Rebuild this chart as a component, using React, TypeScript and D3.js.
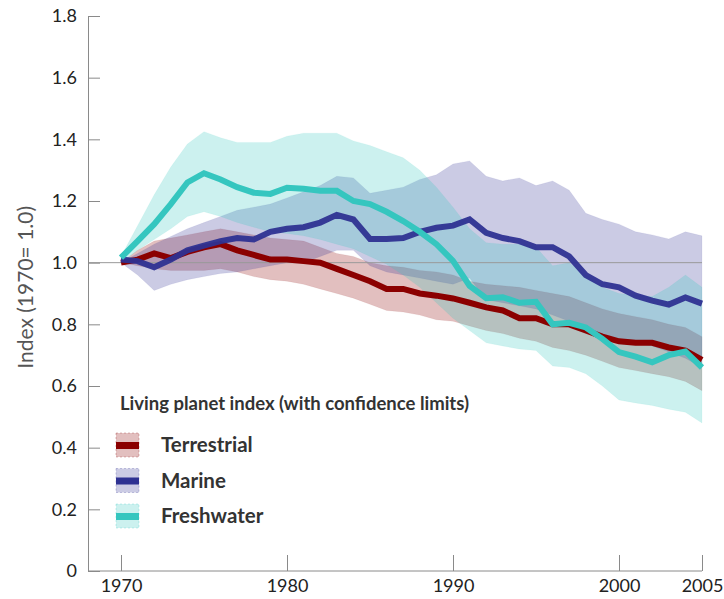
import React, { useRef, useEffect } from 'react'
import * as d3 from 'd3'

// years 1970..2005
const years = [
	1970, 1971, 1972, 1973, 1974, 1975, 1976, 1977, 1978, 1979, 1980, 1981,
	1982, 1983, 1984, 1985, 1986, 1987, 1988, 1989, 1990, 1991, 1992, 1993,
	1994, 1995, 1996, 1997, 1998, 1999, 2000, 2001, 2002, 2003, 2004, 2005,
]

const terrestrial = [
	1.0, 1.01, 1.03, 1.015, 1.035, 1.05, 1.06, 1.04, 1.025, 1.01, 1.01, 1.005,
	1.0, 0.98, 0.96, 0.94, 0.915, 0.915, 0.9, 0.893, 0.884, 0.87, 0.855, 0.845,
	0.82, 0.82, 0.8, 0.8, 0.78, 0.76, 0.745, 0.74, 0.74, 0.725, 0.715, 0.685,
]
const terrestrialHi = [
	1.0, 1.04, 1.07, 1.08, 1.09, 1.1, 1.11, 1.1, 1.09, 1.08, 1.075, 1.07,
	1.05, 1.03, 1.02, 1.0, 0.99, 0.985, 0.975, 0.97, 0.96, 0.94, 0.93, 0.925,
	0.92, 0.91, 0.9, 0.89, 0.87, 0.85, 0.835, 0.825, 0.815, 0.8, 0.79, 0.76,
]
const terrestrialLo = [
	1.0, 0.99, 0.98, 0.975, 0.975, 0.975, 0.98, 0.97, 0.955, 0.945, 0.94, 0.93,
	0.915, 0.9, 0.885, 0.865, 0.845, 0.84, 0.83, 0.815, 0.81, 0.795, 0.78, 0.77,
	0.755, 0.745, 0.725, 0.715, 0.7, 0.68, 0.66, 0.65, 0.64, 0.63, 0.615, 0.585,
]

const marine = [
	1.01, 1.005, 0.985, 1.01, 1.04, 1.055, 1.07, 1.08, 1.075, 1.1, 1.11, 1.115,
	1.13, 1.155, 1.14, 1.077, 1.077, 1.08, 1.1, 1.113, 1.12, 1.14, 1.097, 1.08,
	1.07, 1.05, 1.05, 1.02, 0.96, 0.93, 0.92, 0.893, 0.877, 0.864, 0.887, 0.867,
]
const marineHi = [
	1.0, 1.03, 1.06, 1.085, 1.11, 1.13, 1.15, 1.17, 1.18, 1.19, 1.21, 1.23,
	1.25, 1.28, 1.275, 1.225, 1.235, 1.245, 1.27, 1.285, 1.32, 1.33, 1.28, 1.265,
	1.275, 1.25, 1.265, 1.235, 1.16, 1.14, 1.125, 1.1, 1.09, 1.077, 1.1, 1.087,
]
const marineLo = [
	1.0, 0.96, 0.91, 0.93, 0.945, 0.955, 0.965, 0.97, 0.98, 0.99, 1.0, 1.0,
	1.02, 1.04, 1.04, 0.99, 0.97, 0.96, 0.95, 0.94, 0.93, 0.95, 0.88, 0.87,
	0.86, 0.85, 0.83, 0.81, 0.79, 0.77, 0.75, 0.74, 0.73, 0.71, 0.69, 0.66,
]

const freshwater = [
	1.016, 1.07, 1.125, 1.19, 1.26, 1.29, 1.27, 1.245, 1.227, 1.223, 1.243, 1.24,
	1.233, 1.233, 1.2, 1.19, 1.165, 1.135, 1.1, 1.06, 1.006, 0.925, 0.885, 0.888,
	0.87, 0.873, 0.8, 0.805, 0.79, 0.753, 0.71, 0.695, 0.677, 0.7, 0.712, 0.66,
]
const freshwaterHi = [
	1.02, 1.12, 1.22, 1.31, 1.385, 1.425, 1.405, 1.39, 1.39, 1.39, 1.41, 1.42,
	1.42, 1.42, 1.395, 1.38, 1.36, 1.34, 1.3, 1.245, 1.18, 1.11, 1.065, 1.06,
	1.06, 1.05, 0.99, 1.0, 0.96, 0.92, 0.9, 0.895, 0.89, 0.92, 0.96, 0.92,
]
const freshwaterLo = [
	1.0, 1.04, 1.075, 1.11, 1.15, 1.165, 1.15, 1.13, 1.115, 1.1, 1.095, 1.087,
	1.075, 1.06, 1.045, 1.02, 0.995, 0.96, 0.92, 0.87, 0.82, 0.78, 0.74, 0.73,
	0.72, 0.715, 0.665, 0.66, 0.64, 0.6, 0.555, 0.545, 0.537, 0.525, 0.515, 0.48,
]

const seriesNames = ['Terrestrial', 'Marine', 'Freshwater']
const seriesColors = ['#8b0000', '#2e3192', '#35c6bf']

const yTicks = [0, 0.2, 0.4, 0.6, 0.8, 1.0, 1.2, 1.4, 1.6, 1.8]
const yTickLabels = ['0', '0.2', '0.4', '0.6', '0.8', '1.0', '1.2', '1.4', '1.6', '1.8']
const xTicks = [1970, 1980, 1990, 2000, 2005]

const legendTitle = 'Living planet index (with confidence limits)'
const yTitle = 'Index (1970= 1.0)'

const font = 'Lato, "Open Sans", sans-serif'

function App() {
	const svgRef = useRef<SVGSVGElement>(null)

	useEffect(() => {
		const svg = d3.select(svgRef.current)
		svg.selectAll('*').remove()

		const left = 88
		const x = d3.scaleLinear().domain([1970, 2005]).range([121, 702])
		const y = d3.scaleLinear().domain([0, 1.8]).range([571, 16])

		const series = [
			{ v: terrestrial, hi: terrestrialHi, lo: terrestrialLo },
			{ v: marine, hi: marineHi, lo: marineLo },
			{ v: freshwater, hi: freshwaterHi, lo: freshwaterLo },
		]

		// confidence bands
		series.forEach((s, k) => {
			const area = d3
				.area<number>()
				.x((d, i) => x(years[i]))
				.y0((d, i) => y(s.lo[i]))
				.y1((d) => y(d))
			svg
				.append('path')
				.attr('d', area(s.hi))
				.attr('fill', seriesColors[k])
				.attr('fill-opacity', 0.25)
				.attr('stroke', seriesColors[k])
				.attr('stroke-opacity', 0.06)
		})

		// reference line at 1.0
		svg
			.append('line')
			.attr('x1', left)
			.attr('x2', x(2005))
			.attr('y1', y(1))
			.attr('y2', y(1))
			.attr('stroke', '#999')
			.attr('stroke-width', 1)

		// index lines
		series.forEach((s, k) => {
			const ln = d3
				.line<number>()
				.x((d, i) => x(years[i]))
				.y((d) => y(d))
			svg
				.append('path')
				.attr('d', ln(s.v))
				.attr('fill', 'none')
				.attr('stroke', seriesColors[k])
				.attr('stroke-width', 6)
				.attr('stroke-opacity', k === 1 ? 0.95 : 1)
		})

		// y axis
		const yAxis = d3
			.axisLeft(y)
			.tickValues(yTicks)
			.tickFormat((d, i) => yTickLabels[i])
			.tickSizeInner(-12)
			.tickSizeOuter(0)
			.tickPadding(11)
		const gy = svg.append('g').attr('transform', `translate(${left},0)`).call(yAxis)
		gy.selectAll('path, line').attr('stroke', '#8a8a8a')
		gy.selectAll('text')
			.attr('fill', '#222')
			.style('font-family', font)
			.style('font-size', '18px')

		// x axis
		const xAxis = d3
			.axisBottom(x)
			.tickValues(xTicks)
			.tickFormat((d) => String(d))
			.tickSizeInner(-16)
			.tickSizeOuter(0)
			.tickPadding(8)
		const gx = svg.append('g').attr('transform', `translate(0,${y(0)})`).call(xAxis)
		gx.select('.domain').remove()
		gx.selectAll('line').attr('stroke', '#8a8a8a')
		gx.selectAll('text')
			.attr('fill', '#222')
			.style('font-family', font)
			.style('font-size', '18px')
		gx.append('line')
			.attr('x1', left)
			.attr('x2', x(2005))
			.attr('stroke', '#8a8a8a')

		// y title
		svg
			.append('text')
			.attr('transform', `translate(33,${y(0.92)}) rotate(-90)`)
			.attr('text-anchor', 'middle')
			.attr('fill', '#555')
			.style('font-family', font)
			.style('font-size', '21px')
			.text(yTitle)

		// legend
		const lg = svg.append('g')
		lg.append('text')
			.attr('x', 120)
			.attr('y', 410)
			.attr('fill', '#333')
			.style('font-family', font)
			.style('font-size', '18.5px')
			.style('font-weight', 700)
			.text(legendTitle)

		seriesNames.forEach((name, k) => {
			const top = 433 + k * 35.5
			lg.append('rect')
				.attr('x', 116)
				.attr('y', top)
				.attr('width', 23)
				.attr('height', 24)
				.attr('fill', seriesColors[k])
				.attr('fill-opacity', 0.25)
				.attr('stroke', seriesColors[k])
				.attr('stroke-opacity', 0.25)
				.attr('stroke-dasharray', '2,2')
			lg.append('rect')
				.attr('x', 116)
				.attr('y', top + 9)
				.attr('width', 23)
				.attr('height', 7)
				.attr('fill', seriesColors[k])
			lg.append('text')
				.attr('x', 161)
				.attr('y', top + 19)
				.attr('fill', '#333')
				.style('font-family', font)
				.style('font-size', '20.5px')
				.style('font-weight', 700)
				.text(name)
		})
	}, [])

	return (
		<svg
			ref={svgRef}
			width={724}
			height={599}
			style={{ position: 'absolute', left: 0, top: 0, background: '#fff' }}
		/>
	)
}

export default App
